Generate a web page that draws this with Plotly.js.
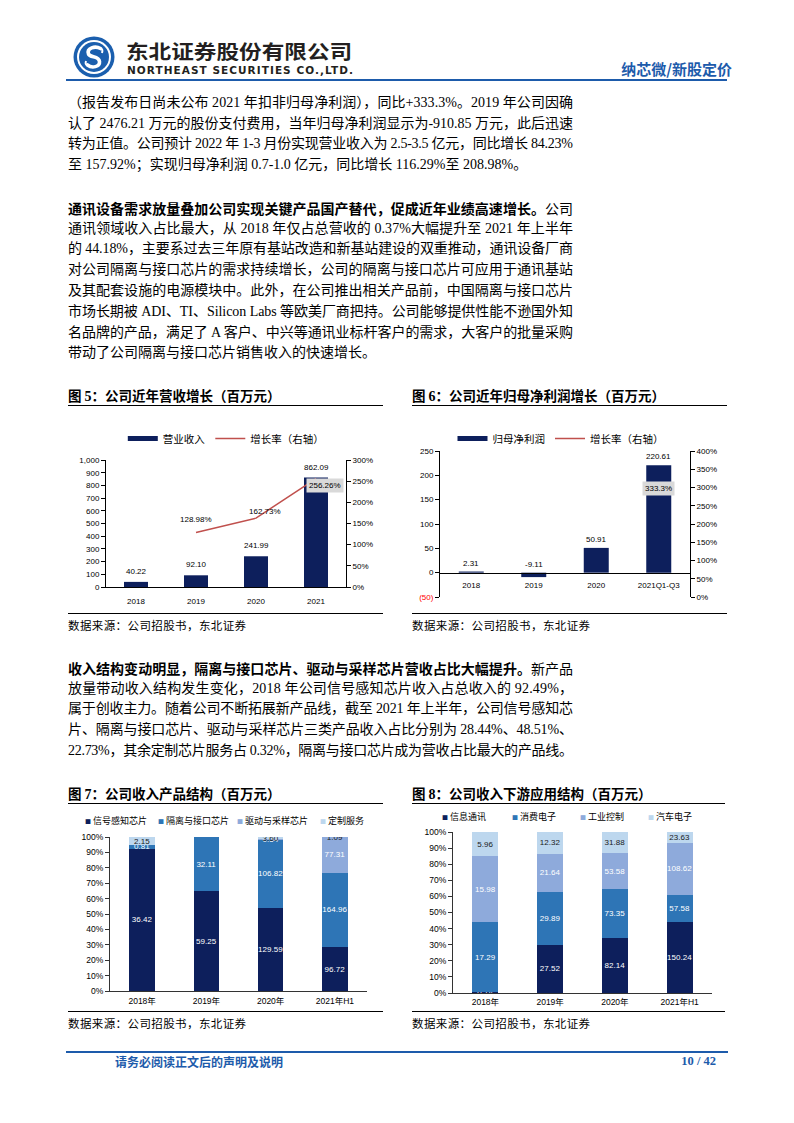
<!DOCTYPE html>
<html><head><meta charset="utf-8">
<script src="https://cdn.plot.ly/plotly-3.0.1.min.js"></script>
<style>
body{margin:0;background:#fff;}
#page{position:relative;width:794px;height:1123px;overflow:hidden;background:#fff;font-family:"Liberation Serif","Noto Sans CJK SC",serif;color:#000;}
.abs{position:absolute;white-space:nowrap;}
.para{position:absolute;left:68px;width:520px;font-size:14px;line-height:20.8px;}
.ln{height:20.8px;white-space:nowrap;}
.ln>span{display:inline-block;white-space:nowrap;}
.b{font-family:"Noto Sans CJK SC",sans-serif;font-weight:bold;}
.ftitle{position:absolute;font-family:"Noto Sans CJK SC",sans-serif;font-weight:bold;font-size:13.5px;line-height:16px;white-space:nowrap;}
.ftitle .n{font-family:"Liberation Serif",serif;font-weight:bold;font-size:14px;}
.rule{position:absolute;height:0;border-top:1.2px solid #000;}
.src{position:absolute;font-family:"Noto Sans CJK SC",sans-serif;font-size:11.5px;line-height:14px;letter-spacing:0.4px;white-space:nowrap;}
.chart{position:absolute;}
</style></head>
<body>
<div id="page">
  <!-- header -->
  <svg class="abs" style="left:73px;top:36px" width="42" height="42" viewBox="0 0 42 42">
    <circle cx="21" cy="21" r="20.5" fill="#1b5fae"/>
    <circle cx="21" cy="21" r="17" fill="#fff"/>
    <circle cx="21" cy="21" r="15" fill="#1b5fae"/>
    <path d="M27.5,12.5 C22,9.5 13.5,12 15.5,18 C17,22 26,19.5 26.5,25.5 C27,31 19,32.5 14.5,29" stroke="#fff" stroke-width="3.6" fill="none" stroke-linecap="round"/>
    <path d="M29,17 C30,14 29,12.5 27.5,12.5 M13,25 C12,28 13,29 14.5,29" stroke="#fff" stroke-width="2" fill="none"/>
  </svg>
  <div class="abs" style="left:126px;top:38px;font-family:'Noto Sans CJK SC',sans-serif;font-weight:bold;font-size:19px;line-height:26px;color:#231f20;transform:scaleX(1.19);transform-origin:left center;">东北证券股份有限公司</div>
  <div class="abs" style="left:127px;top:64px;font-family:'DejaVu Sans',sans-serif;font-weight:bold;font-size:10.5px;line-height:12px;color:#231f20;letter-spacing:1.05px;">NORTHEAST SECURITIES CO.,LTD.</div>
  <div class="abs" style="right:62px;top:59px;font-family:'Noto Sans CJK SC',sans-serif;font-weight:bold;font-size:15px;line-height:19px;color:#1d5bab;">纳芯微/新股定价</div>
  <div class="abs" style="left:66px;top:79px;width:661px;height:2px;background:#1d5bab;"></div>

  <!-- paragraph 1 -->
  <div class="para" style="top:92.9px;">
    <div class="ln"><span>（报告发布日尚未公布 2021 年扣非归母净利润），同比+333.3%。2019 年公司因确</span></div>
    <div class="ln"><span>认了 2476.21 万元的股份支付费用，当年归母净利润显示为-910.85 万元，此后迅速</span></div>
    <div class="ln"><span>转为正值。公司预计 2022 年 1-3 月份实现营业收入为 2.5-3.5 亿元，同比增长 84.23%</span></div>
    <div class="ln last"><span>至 157.92%；实现归母净利润 0.7-1.0 亿元，同比增长 116.29%至 208.98%。</span></div>
  </div>
  <!-- paragraph 2 -->
  <div class="para" style="top:197.9px;">
    <div class="ln"><span><span class="b">通讯设备需求放量叠加公司实现关键产品国产替代，促成近年业绩高速增长。</span>公司</span></div>
    <div class="ln"><span>通讯领域收入占比最大，从 2018 年仅占总营收的 0.37%大幅提升至 2021 年上半年</span></div>
    <div class="ln"><span>的 44.18%，主要系过去三年原有基站改造和新基站建设的双重推动，通讯设备厂商</span></div>
    <div class="ln"><span>对公司隔离与接口芯片的需求持续增长，公司的隔离与接口芯片可应用于通讯基站</span></div>
    <div class="ln"><span>及其配套设施的电源模块中。此外，在公司推出相关产品前，中国隔离与接口芯片</span></div>
    <div class="ln"><span>市场长期被 ADI、TI、Silicon Labs 等欧美厂商把持。公司能够提供性能不逊国外知</span></div>
    <div class="ln"><span>名品牌的产品，满足了 A 客户、中兴等通讯业标杆客户的需求，大客户的批量采购</span></div>
    <div class="ln last"><span>带动了公司隔离与接口芯片销售收入的快速增长。</span></div>
  </div>

  <!-- figure 5 / 6 frames -->
  <div class="ftitle" style="left:68px;top:387px;">图 <span class="n">5</span>：公司近年营收增长（百万元）</div>
  <div class="rule" style="left:68px;top:404.5px;width:315px;"></div>
  <div class="ftitle" style="left:412px;top:387px;">图 <span class="n">6</span>：公司近年归母净利润增长（百万元）</div>
  <div class="rule" style="left:412px;top:404.5px;width:315px;"></div>
  <div id="c5" class="chart" style="left:60px;top:412px;width:340px;height:200px;"></div>
  <div id="c6" class="chart" style="left:405px;top:412px;width:340px;height:200px;"></div>
  <div class="rule" style="left:68px;top:612.7px;width:315px;"></div>
  <div class="rule" style="left:412px;top:612.7px;width:315px;"></div>
  <div class="src" style="left:68px;top:618px;">数据来源：公司招股书，东北证券</div>
  <div class="src" style="left:412px;top:618px;">数据来源：公司招股书，东北证券</div>

  <!-- paragraph 3 -->
  <div class="para" style="top:657.9px;">
    <div class="ln"><span><span class="b">收入结构变动明显，隔离与接口芯片、驱动与采样芯片营收占比大幅提升。</span>新产品</span></div>
    <div class="ln"><span>放量带动收入结构发生变化，2018 年公司信号感知芯片收入占总收入的 92.49%，</span></div>
    <div class="ln"><span>属于创收主力。随着公司不断拓展新产品线，截至 2021 年上半年，公司信号感知芯</span></div>
    <div class="ln"><span>片、隔离与接口芯片、驱动与采样芯片三类产品收入占比分别为 28.44%、48.51%、</span></div>
    <div class="ln"><span>22.73%，其余定制芯片服务占 0.32%，隔离与接口芯片成为营收占比最大的产品线。</span></div>
  </div>

  <!-- figure 7 / 8 frames -->
  <div class="ftitle" style="left:68px;top:785px;">图 <span class="n">7</span>：公司收入产品结构（百万元）</div>
  <div class="rule" style="left:68px;top:802.5px;width:315px;"></div>
  <div class="ftitle" style="left:412px;top:785px;">图 <span class="n">8</span>：公司收入下游应用结构（百万元）</div>
  <div class="rule" style="left:412px;top:802.5px;width:313px;"></div>
  <div id="c7" class="chart" style="left:60px;top:808px;width:340px;height:203px;"></div>
  <div id="c8" class="chart" style="left:405px;top:808px;width:340px;height:203px;"></div>
  <div class="rule" style="left:68px;top:1010.7px;width:315px;"></div>
  <div class="rule" style="left:412px;top:1010.7px;width:313px;"></div>
  <div class="src" style="left:68px;top:1016px;">数据来源：公司招股书，东北证券</div>
  <div class="src" style="left:412px;top:1016px;">数据来源：公司招股书，东北证券</div>

  <!-- footer -->
  <div class="abs" style="left:66px;top:1051px;width:662px;height:1.5px;background:#1d5bab;"></div>
  <div class="abs" style="left:115px;top:1053px;font-family:'Noto Sans CJK SC',sans-serif;font-weight:bold;font-size:12px;line-height:17px;color:#1d5bab;">请务必阅读正文后的声明及说明</div>
  <div class="abs" style="right:78px;top:1053px;font-family:'Liberation Serif',serif;font-weight:bold;font-size:12.5px;line-height:17px;color:#1d5bab;">10 / 42</div>
</div>

<script>
// ---------------- data ----------------
const years5 = ['2018', '2019', '2020', '2021'];
const revenue = [40.22, 92.10, 241.99, 862.09];
const revenueGrowth = [null, 1.2898, 1.6273, 2.5626];

const years6 = ['2018', '2019', '2020', '2021Q1-Q3'];
const netProfit = [2.31, -9.11, 50.91, 220.61];
const netProfitGrowth = [null, null, null, 3.333];

const years7 = ['2018年', '2019年', '2020年', '2021年H1'];
const productNames = ['信号感知芯片', '隔离与接口芯片', '驱动与采样芯片', '定制服务'];
const productSignal = [36.42, 59.25, 129.59, 96.72];
const productIsolation = [0.81, 32.11, 106.82, 164.96];
const productDriver = [null, null, 0.54, 77.31];
const productCustom = [2.15, null, 3.60, 1.09];

const years8 = ['2018年', '2019年', '2020年', '2021年H1'];
const appNames = ['信息通讯', '消费电子', '工业控制', '汽车电子'];
const appComm = [0.14, 27.52, 82.14, 150.24];
const appConsumer = [17.29, 29.89, 73.35, 57.58];
const appIndustrial = [15.98, 21.64, 53.58, 108.62];
const appAuto = [5.96, 12.32, 31.88, 23.63];

// ---------------- styles ----------------
const NAVY = '#0d1f5c', BLUE = '#2e75b6', LAV = '#8eaadb', LIGHT = '#bdd7ee', RED = '#c0504d';
const NUMFONT = '"Liberation Sans", Arial, "Noto Sans CJK SC", sans-serif';
const CJK = '"Noto Sans CJK SC", sans-serif';
const cfg = {staticPlot: true, displayModeBar: false, responsive: false};

function yAxis(extra) {
  return Object.assign({
    showline: true, linecolor: '#000', linewidth: 1, ticks: 'outside', ticklen: 4,
    tickcolor: '#000', tickwidth: 1, showgrid: false, zeroline: false,
    tickfont: {family: NUMFONT, size: 8, color: '#000'}, fixedrange: true
  }, extra);
}
function xAxis(cats, extra) {
  return Object.assign({
    type: 'category', categoryorder: 'array', categoryarray: cats, range: [-0.5, cats.length - 0.5],
    showline: true, linecolor: '#000', linewidth: 1, ticks: '',
    showgrid: false, zeroline: false, tickfont: {family: NUMFONT, size: 8, color: '#000'}, fixedrange: true
  }, extra);
}
const baseLayout = {paper_bgcolor: 'rgba(0,0,0,0)', plot_bgcolor: 'rgba(0,0,0,0)', hovermode: false};
// annotations on category axes are placed by category index (numeric-looking labels would be read as indices)
const catIndex = (cats, c) => cats.indexOf(c);

// ---------------- figure 5 ----------------
const growthShift5 = [[0, 0], [0, 13], [9, 7], [9, -7]];
const ann5 = revenue.map((v, i) => ({
  x: catIndex(years5, years5[i]), y: v, xref: 'x', yref: 'y', text: v.toFixed(2), showarrow: false,
  yanchor: 'bottom', yshift: 4, font: {family: NUMFONT, size: 8, color: '#000'}
}));
revenueGrowth.forEach((g, i) => {
  if (g == null) return;
  const last = i === revenueGrowth.length - 1;
  ann5.push({
    x: catIndex(years5, years5[i]), y: g, xref: 'x', yref: 'y2', text: (g * 100).toFixed(2) + '%', showarrow: false,
    xshift: growthShift5[i][0], yshift: growthShift5[i][1],
    bgcolor: last ? '#d9d9d9' : 'rgba(0,0,0,0)', borderpad: last ? 2 : 0,
    font: {family: NUMFONT, size: 8, color: '#000'}
  });
});
Plotly.newPlot('c5', [
  {type: 'bar', x: years5, y: revenue, marker: {color: NAVY}, showlegend: false, name: '营业收入'},
  {type: 'scatter', mode: 'lines', x: years5, y: revenueGrowth, yaxis: 'y2', line: {color: RED, width: 1.5}, showlegend: false, name: '增长率（右轴）'},
  // legend keys (wide bar key like the reference)
  {type: 'scatter', mode: 'lines', x: [years5[0]], y: [null], line: {color: NAVY, width: 5}, name: '营业收入'},
  {type: 'scatter', mode: 'lines', x: [years5[0]], y: [null], yaxis: 'y2', line: {color: RED, width: 1.5}, name: '增长率（右轴）'}
], Object.assign({}, baseLayout, {
  width: 340, height: 200, margin: {l: 46, r: 54, t: 39, b: 25},
  bargap: 0.6,
  xaxis: xAxis(years5, {ticklabelstandoff: 6}),
  yaxis: yAxis({range: [0, 1000], dtick: 100, tickformat: ','}),
  yaxis2: yAxis({overlaying: 'y', side: 'right', range: [0, 3], dtick: 0.5, tickformat: '.0%'}),
  legend: {orientation: 'h', x: 0.07, xanchor: 'left', y: 1.17, yanchor: 'middle', itemwidth: 30,
    font: {family: CJK, size: 10.5, color: '#000'}, bgcolor: 'rgba(0,0,0,0)'},
  annotations: ann5
}), cfg);

// ---------------- figure 6 ----------------
const r6 = [-50, 250];
const ticks6 = [];
for (let v = r6[0]; v <= r6[1]; v += 50) ticks6.push(v);
const ann6 = netProfit.map((v, i) => ({
  x: catIndex(years6, years6[i]), y: Math.max(v, 0), xref: 'x', yref: 'y', text: v.toFixed(2), showarrow: false,
  yanchor: 'bottom', yshift: 2, font: {family: NUMFONT, size: 8, color: '#000'}
}));
netProfitGrowth.forEach((g, i) => {
  if (g == null) return;
  ann6.push({
    x: catIndex(years6, years6[i]), y: g, xref: 'x', yref: 'y2', text: (g * 100).toFixed(1) + '%', showarrow: false,
    yshift: -13.5, bgcolor: '#d9d9d9', borderpad: 2, font: {family: NUMFONT, size: 8, color: '#000'}
  });
});
Plotly.newPlot('c6', [
  {type: 'bar', x: years6, y: netProfit, marker: {color: NAVY}, showlegend: false, name: '归母净利润'},
  {type: 'scatter', mode: 'lines', x: years6, y: netProfitGrowth, yaxis: 'y2', line: {color: RED, width: 1.5}, showlegend: false, name: '增长率（右轴）'},
  {type: 'scatter', mode: 'lines', x: [years6[0]], y: [null], line: {color: NAVY, width: 5}, name: '归母净利润'},
  {type: 'scatter', mode: 'lines', x: [years6[0]], y: [null], yaxis: 'y2', line: {color: RED, width: 1.5}, name: '增长率（右轴）'}
], Object.assign({}, baseLayout, {
  width: 340, height: 200, margin: {l: 35, r: 55, t: 25, b: 15},
  bargap: 0.6,
  xaxis: xAxis(years6, {anchor: 'free', position: (0 - r6[0]) / (r6[1] - r6[0]), ticklabelstandoff: 5}),
  yaxis: yAxis({range: r6, tickvals: ticks6,
    ticktext: ticks6.map(v => v < 0 ? '<span style="color:#ff0000">(' + (-v) + ')</span>' : String(v))}),
  yaxis2: yAxis({overlaying: 'y', side: 'right', range: [0, 4], dtick: 0.5, tickformat: '.0%'}),
  legend: {orientation: 'h', x: 0.05, xanchor: 'left', y: 1.085, yanchor: 'middle', itemwidth: 30,
    font: {family: CJK, size: 10.5, color: '#000'}, bgcolor: 'rgba(0,0,0,0)'},
  annotations: ann6
}), cfg);

// ---------------- stacked percent helpers ----------------
function stackTraces(xs, series, names, colors, textColors) {
  return series.map((s, k) => ({
    type: 'bar', x: xs, y: s, name: names[k], marker: {color: colors[k], line: {width: 0}},
    showlegend: false,
    text: s.map(v => v == null ? '' : v.toFixed(2)),
    textposition: 'inside', insidetextanchor: 'middle', constraintext: 'none', textangle: 0,
    textfont: {family: NUMFONT, size: 8, color: textColors[k]}
  }));
}
function legendAnns(names, colors, xs, y) {
  return names.map((n, k) => ({
    xref: 'paper', yref: 'paper', x: xs[k], y: y, xanchor: 'left', yanchor: 'middle', showarrow: false,
    text: '<span style="color:' + colors[k] + ';font-size:6px">■</span> ' + n,
    font: {family: CJK, size: 9, color: '#000'}
  }));
}
const pctAxis = yAxis({range: [0, 100], dtick: 10, ticksuffix: '%', linecolor: '#333', tickcolor: '#333',
  tickfont: {family: NUMFONT, size: 8.5, color: '#000'}});

// ---------------- figure 7 ----------------
const colors4 = [NAVY, BLUE, LAV, LIGHT];
Plotly.newPlot('c7', stackTraces(years7, [productSignal, productIsolation, productDriver, productCustom],
  productNames, colors4, ['#fff', '#fff', '#fff', '#1a1a1a']),
  Object.assign({}, baseLayout, {
    width: 340, height: 203, margin: {l: 50, r: 33, t: 29, b: 20},
    barmode: 'stack', barnorm: 'percent', bargap: 0.6,
    xaxis: xAxis(years7, {linecolor: '#333', tickfont: {family: NUMFONT, size: 8.5, color: '#000'}, ticklabelstandoff: 2}),
    yaxis: pctAxis,
    annotations: legendAnns(productNames, colors4, [-0.105, 0.18, 0.487, 0.81], 1.104)
  }), cfg);

// ---------------- figure 8 ----------------
Plotly.newPlot('c8', stackTraces(years8, [appComm, appConsumer, appIndustrial, appAuto],
  appNames, colors4, ['#fff', '#fff', '#fff', '#1a1a1a']),
  Object.assign({}, baseLayout, {
    width: 340, height: 203, margin: {l: 48, r: 33, t: 24, b: 18},
    barmode: 'stack', barnorm: 'percent', bargap: 0.6,
    xaxis: xAxis(years8, {linecolor: '#333', tickfont: {family: NUMFONT, size: 8.5, color: '#000'}, ticklabelstandoff: 1}),
    yaxis: pctAxis,
    annotations: legendAnns(appNames, colors4, [-0.05, 0.222, 0.484, 0.747], 1.097)
  }), cfg);

// ---------------- justify body lines ----------------
function fitLines() {
  const W = 505;
  document.querySelectorAll('.ln:not(.last) > span').forEach(sp => {
    sp.style.letterSpacing = '0px';
    const w = sp.getBoundingClientRect().width;
    const n = Array.from(sp.textContent).length;
    if (n > 1) sp.style.letterSpacing = ((W - w) / (n - 1)) + 'px';
  });
}
fitLines();
if (document.fonts && document.fonts.ready) document.fonts.ready.then(fitLines);
</script>
</body></html>
